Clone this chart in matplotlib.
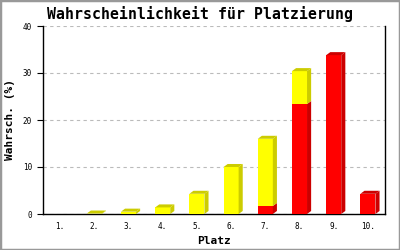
import numpy as np
import matplotlib.pyplot as plt
from matplotlib.patches import Polygon, Rectangle

plaetze = ['1.', '2.', '3.', '4.', '5.', '6.', '7.', '8.', '9.', '10.']
rot = [0, 0, 0, 0, 0, 0, 1.7, 23.4, 33.8, 4.3]
gelb = [0, 0.1, 0.5, 1.4, 4.3, 10.0, 14.3, 7.0, 0, 0]

farben = {'rot': ('#ff0000', '#cc0000'), 'gelb': ('#ffff00', '#cccc00')}

fig = plt.figure(figsize=(4, 2.5), dpi=100)
fig.patches.append(Rectangle((0, 0), 1, 1, transform=fig.transFigure, fill=False,
                             edgecolor='#999999', linewidth=2.5))
ax = fig.add_axes([0.1075, 0.144, 0.855, 0.752])

x = np.arange(len(plaetze))
w = 0.44
dx = 0.12
dy = 0.64

def block(xc, y0, h, face, dark):
    if h <= 0:
        return
    l, r = xc - w / 2, xc + w / 2
    ax.add_patch(Rectangle((l, y0), w, h, facecolor=face, edgecolor='none', zorder=3))
    ax.add_patch(Polygon([(r, y0), (r + dx, y0 + dy), (r + dx, y0 + h + dy), (r, y0 + h)],
                         closed=True, facecolor=dark, edgecolor='none', zorder=3))

for i in range(len(plaetze)):
    block(x[i], 0, rot[i], *farben['rot'])
    block(x[i], rot[i], gelb[i], *farben['gelb'])
    total = rot[i] + gelb[i]
    if total > 0:
        dark = farben['gelb'][1] if gelb[i] > 0 else farben['rot'][1]
        l, r = x[i] - w / 2, x[i] + w / 2
        ax.add_patch(Polygon([(l, total), (l + dx, total + dy), (r + dx, total + dy), (r, total)],
                             closed=True, facecolor=dark, edgecolor='none', zorder=3))

ax.set_xlim(-0.5, 9.5)
ax.set_ylim(0, 40)
ax.set_yticks([0, 10, 20, 30, 40])
ax.set_xticks(x)
ax.set_xticklabels(plaetze)
ax.yaxis.grid(True, color='#bbbbbb', linestyle=(0, (3, 3)), linewidth=0.8)
ax.set_axisbelow(True)

ax.spines['top'].set_visible(False)
for s in ['left', 'right', 'bottom']:
    ax.spines[s].set_linewidth(1.0)
    ax.spines[s].set_color('black')

mono = 'DejaVu Sans Mono'
ax.tick_params(axis='y', length=4.3, width=0.8, pad=3.5, labelsize=5.5, labelfontfamily=mono)
ax.tick_params(axis='x', length=0, pad=6, labelsize=5.5, labelfontfamily=mono)

fig.text(0.5, 0.945, 'Wahrscheinlichkeit für Platzierung', fontfamily=mono, fontweight='bold',
         fontsize=10.7, ha='center', va='center')
ax.set_xlabel('Platz', fontfamily=mono, fontweight='bold', fontsize=8, labelpad=3)
ax.set_ylabel('Wahrsch. (%)', fontfamily=mono, fontweight='bold', fontsize=8, labelpad=6)

fig.savefig('out.png', dpi=100)
